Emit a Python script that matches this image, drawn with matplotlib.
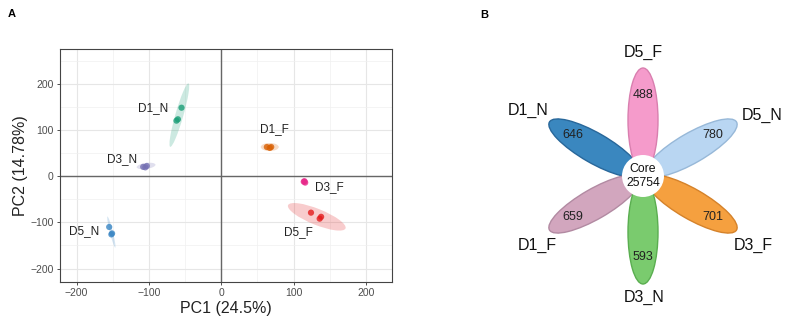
import numpy as np
import matplotlib
matplotlib.use("Agg")
import matplotlib.pyplot as plt
from matplotlib.patches import Ellipse, Circle
from matplotlib.transforms import ScaledTranslation

plt.rcParams['font.family'] = ['Liberation Sans', 'DejaVu Sans']

# ---- panel A: PCA ----
groups = ['D1_N', 'D3_N', 'D5_N', 'D1_F', 'D3_F', 'D5_F']
pc1 = {'D1_N': [-55, -60, -62], 'D3_N': [-108, -103, -105], 'D5_N': [-155, -151, -152],
       'D1_F': [63, 69, 67], 'D3_F': [114, 116, 115], 'D5_F': [124, 136, 138]}
pc2 = {'D1_N': [148, 123, 120], 'D3_N': [20, 22, 19], 'D5_N': [-110, -124, -126],
       'D1_F': [63, 63, 61], 'D3_F': [-12, -14, -11], 'D5_F': [-79, -92, -88]}
pt_col = {'D1_N': '#1B9E77', 'D3_N': '#7570B3', 'D5_N': '#3A86C4',
          'D1_F': '#D95F02', 'D3_F': '#E7298A', 'D5_F': '#E31A1C'}
# ellipse: centre (data), length, width (pixels), angle (deg)
ell_c = {'D1_N': (-58, 132), 'D3_N': (-104, 22), 'D5_N': (-152, -121),
         'D1_F': (67, 63), 'D3_F': (115, -12), 'D5_F': (132, -88)}
ell_len = {'D1_N': 66, 'D3_N': 19, 'D5_N': 32, 'D1_F': 18, 'D3_F': 6, 'D5_F': 62}
ell_wid = {'D1_N': 8, 'D3_N': 6, 'D5_N': 3, 'D1_F': 8, 'D3_F': 6, 'D5_F': 16}
ell_ang = {'D1_N': 74, 'D3_N': 8, 'D5_N': 104, 'D1_F': 0, 'D3_F': 0, 'D5_F': -22}
lab_pos = {'D1_N': (-94, 148), 'D3_N': (-137, 36), 'D5_N': (-190, -118),
           'D1_F': (73, 101), 'D3_F': (149, -23), 'D5_F': (107, -122)}

W, H = 787, 328
fig = plt.figure(figsize=(W / 100, H / 100), dpi=100)
ax = fig.add_axes([60 / W, (H - 282) / H, 332 / W, 233 / H])
ax.set_xlim(-223, 236)
ax.set_ylim(-229, 275)
ax.set_xticks([-200, -100, 0, 100, 200])
ax.set_yticks([-200, -100, 0, 100, 200])
ax.set_xticks(np.arange(-200, 250, 50), minor=True)
ax.set_yticks(np.arange(-200, 300, 50), minor=True)
ax.grid(True, which='major', color='#E6E6E6', lw=0.8)
ax.grid(True, which='minor', color='#F0F0F0', lw=0.5)
ax.tick_params(which='minor', length=0)
ax.tick_params(which='major', length=2.5, width=0.6, color='#333333',
               labelsize=7.5, labelcolor='#4D4D4D', pad=2)
ax.set_axisbelow(True)
for s in ax.spines.values():
    s.set_color('#444444')
    s.set_linewidth(0.8)
ax.axhline(0, color='#666666', lw=1)
ax.axvline(0, color='#666666', lw=1)

for g in groups:
    c = pt_col[g]
    cx, cy = ell_c[g]
    tr = fig.dpi_scale_trans + ScaledTranslation(cx, cy, ax.transData)
    e = Ellipse((0, 0), ell_len[g] / 100, ell_wid[g] / 100, angle=ell_ang[g],
                transform=tr, facecolor=c, alpha=0.22, edgecolor='none')
    ax.add_patch(e)
    ax.scatter(pc1[g], pc2[g], s=20, color=c, alpha=0.8, edgecolors='none', zorder=3)
    ax.text(lab_pos[g][0], lab_pos[g][1], g, fontsize=8.5, color='#222222',
            ha='center', va='center')

ax.set_xlabel('PC1 (24.5%)', fontsize=11.5, color='#222222', labelpad=2)
ax.set_ylabel('PC2 (14.78%)', fontsize=11.5, color='#222222', labelpad=2)
fig.text(8 / W, 1 - 14 / H, 'A', fontsize=8, fontweight='bold', va='center')

# ---- panel B: flower plot ----
petal_names = ['D1_N', 'D1_F', 'D5_N', 'D3_F', 'D5_F', 'D3_N']
petal_angle = [150, 210, 30, 330, 90, 270]
petal_count = [646, 659, 780, 701, 488, 593]
petal_fill = ['#3A87BF', '#D2A6BE', '#B9D6F2', '#F5A03F', '#F59BCB', '#7ACB6E']
petal_edge = ['#28679A', '#B28AA2', '#97B8D8', '#D5822A', '#D97FAF', '#5AAE50']
core_label = 'Core\n25754'
# label placement around the flower (pixels from centre)
name_xy = {'D1_N': (-115, 66), 'D1_F': (-106, -69), 'D5_N': (119, 61),
           'D3_F': (110, -69), 'D5_F': (0, 124), 'D3_N': (1, -121)}

cxp, cyp = 643, 176
bx = fig.add_axes([400 / W, 0, 387 / W, 1])
bx.set_xlim(400 - cxp, W - cxp)
bx.set_ylim(-(H - cyp), cyp)
bx.axis('off')

for name, a, n, fc, ec in zip(petal_names, petal_angle, petal_count, petal_fill, petal_edge):
    t = np.deg2rad(a)
    d = 56
    bx.add_patch(Ellipse((d * np.cos(t), d * np.sin(t)), 104, 30, angle=a,
                         facecolor=fc, edgecolor=ec, lw=1))
    bx.text(81 * np.cos(t), 81 * np.sin(t), str(n), fontsize=9, color='#222222',
            ha='center', va='center', zorder=5)
    bx.text(name_xy[name][0], name_xy[name][1], name, fontsize=11.5, color='#111111',
            ha='center', va='center')

bx.add_patch(Circle((0, 0), 21, facecolor='white', edgecolor='none', zorder=4))
bx.text(0, 0, core_label, fontsize=8.8, ha='center', va='center', zorder=5,
        linespacing=1.2, color='#111111')
fig.text(480 / W, 1 - 15 / H, 'B', fontsize=8, fontweight='bold', va='center')

fig.savefig('out.png', dpi=100)
